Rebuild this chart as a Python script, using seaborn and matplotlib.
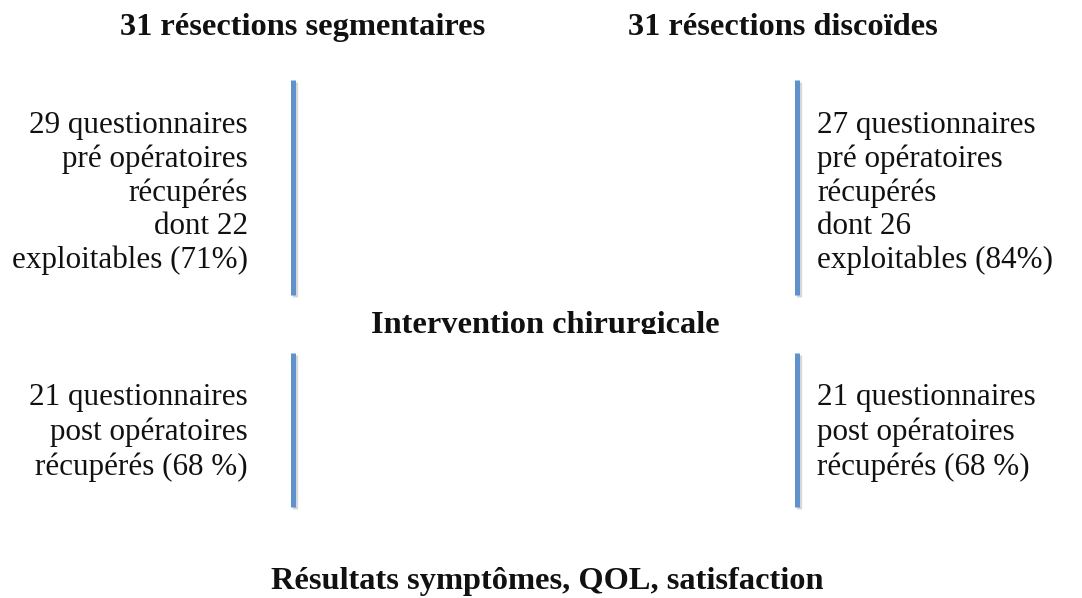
import pandas as pd
import matplotlib.pyplot as plt
from matplotlib.transforms import Bbox
import seaborn as sns

sns.set_theme(style="white")
plt.rcParams['font.family'] = ['Liberation Serif', 'DejaVu Serif']

# ---- diagram content ----
branch_titles = ["31 résections segmentaires", "31 résections discoïdes"]
pre_left = ["29 questionnaires", "pré opératoires", "récupérés", "dont 22", "exploitables (71%)"]
pre_right = ["27 questionnaires", "pré opératoires", "récupérés", "dont 26", "exploitables (84%)"]
post_left = ["21 questionnaires", "post opératoires", "récupérés (68 %)"]
post_right = ["21 questionnaires", "post opératoires", "récupérés (68 %)"]
middle_step = "Intervention chirurgicale"
final_step = "Résultats symptômes, QOL, satisfaction"

# connector segments (one per branch and stage), in pixel layout units
branch_x = [293, 797]
stage_top = [80, 353]
stage_bottom = [295, 507]

W, H = 1082, 598
fig = plt.figure(figsize=(W / 100, H / 100), dpi=100)
ax = fig.add_axes([0, 0, 1, 1])
ax.set_xlim(0, W)
ax.set_ylim(H, 0)
ax.axis('off')

rows = []
seg = 0
for bx in branch_x:
    for top, bot in zip(stage_top, stage_bottom):
        rows.append({'x': bx, 'y': top, 'segment': seg})
        rows.append({'x': bx, 'y': bot, 'segment': seg})
        seg += 1
segments = pd.DataFrame(rows)
shadow = segments.assign(x=segments['x'] + 2, y=segments['y'] + 2)

# soft shadow then blue bar
sns.lineplot(data=shadow, x='x', y='y', units='segment', estimator=None, sort=False,
             color='#bdbdbd', lw=3.8, alpha=0.6, ax=ax, solid_capstyle='butt')
sns.lineplot(data=segments, x='x', y='y', units='segment', estimator=None, sort=False,
             color='#5e92cc', lw=3.6, ax=ax, solid_capstyle='butt')
ax.set_xlim(0, W)
ax.set_ylim(H, 0)
ax.axis('off')

body = dict(fontsize=22.4, color='#111111')
bold = dict(fontsize=23.3, fontweight='bold', color='#111111')

# branch titles
ax.text(303, 35, branch_titles[0], ha='center', va='baseline', **bold)
ax.text(783, 35, branch_titles[1], ha='center', va='baseline', **bold)

# pre-op blocks
for i, line in enumerate(pre_left):
    ax.text(248, 133 + i * 33.75, line, ha='right', va='baseline', **body)
for i, line in enumerate(pre_right):
    ax.text(817, 133 + i * 33.75, line, ha='left', va='baseline', **body)

# surgery step, cut at its baseline like the original
mid = ax.text(545, 333, middle_step, ha='center', va='baseline', **bold)
mid.set_clip_box(Bbox.from_extents(0, H - 334, W, H))
mid.set_clip_on(True)

# post-op blocks
for i, line in enumerate(post_left):
    ax.text(248, 405 + i * 35, line, ha='right', va='baseline', **body)
for i, line in enumerate(post_right):
    ax.text(817, 405 + i * 35, line, ha='left', va='baseline', **body)

ax.text(547, 589, final_step, ha='center', va='baseline', **bold)

fig.savefig('out.png', dpi=100, facecolor='white')
